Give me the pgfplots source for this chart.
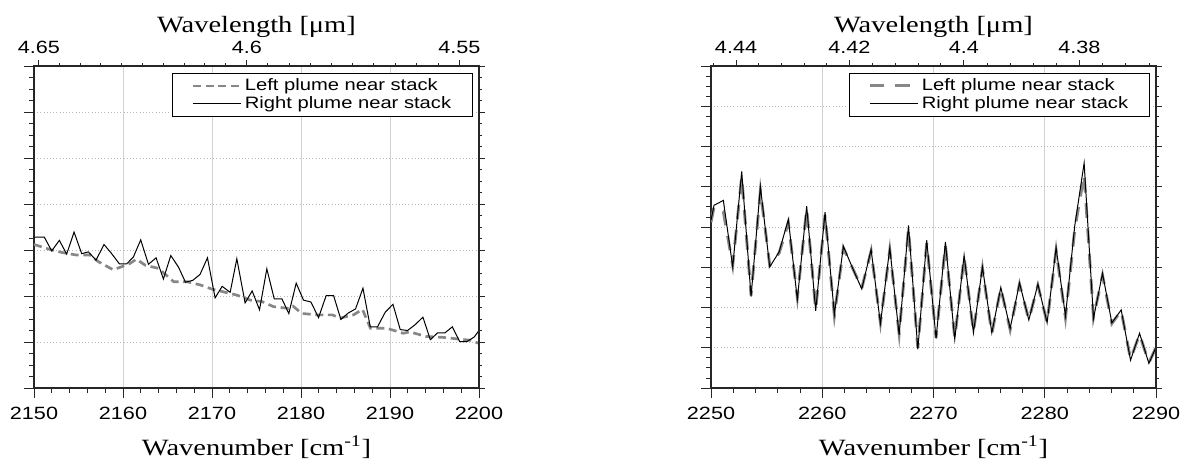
\documentclass[border=0pt]{standalone}
\usepackage{pgfplots}
\pgfplotsset{compat=1.18}
\usepackage{fontspec}
\setmainfont{Liberation Serif}[FakeStretch=1.22]
\newfontfamily\arialx{Liberation Sans}[FakeStretch=1.22]

\definecolor{dashgray}{RGB}{135,135,135}

% left panel data (wavenumber, arbitrary units)
\pgfplotstableread{
x y
2150.00 3.28
2151.16 3.28
2151.99 2.98
2152.85 3.21
2153.67 2.91
2154.50 3.39
2155.36 2.92
2156.11 2.96
2156.97 2.78
2157.87 3.12
2158.73 2.92
2159.59 2.70
2160.42 2.70
2161.17 2.85
2161.99 3.22
2162.86 2.69
2163.72 2.83
2164.54 2.37
2165.37 2.88
2166.23 2.63
2167.02 2.30
2167.84 2.34
2168.66 2.47
2169.49 2.83
2170.35 1.96
2171.14 2.21
2172.04 2.08
2172.79 2.81
2173.72 1.85
2174.51 2.11
2175.34 1.70
2176.16 2.59
2176.99 1.94
2177.85 1.94
2178.63 1.62
2179.46 2.28
2180.28 1.91
2181.11 1.87
2181.97 1.53
2182.83 2.01
2183.66 2.01
2184.48 1.49
2185.31 1.63
2186.13 1.72
2186.96 2.17
2187.78 1.33
2188.60 1.33
2189.47 1.65
2190.33 1.82
2191.15 1.27
2191.98 1.25
2192.84 1.38
2193.70 1.54
2194.53 1.05
2195.35 1.20
2196.18 1.20
2197.00 1.33
2197.83 1.01
2198.65 1.01
2199.47 1.11
2200.00 1.25
}\leftright
\pgfplotstableread{
x y
2150.00 3.12
2152.00 3.00
2153.30 2.94
2154.80 2.89
2156.30 2.89
2157.20 2.75
2158.90 2.57
2159.90 2.64
2160.80 2.71
2161.50 2.80
2162.50 2.67
2164.00 2.60
2165.70 2.31
2167.20 2.31
2168.70 2.24
2170.00 2.15
2171.30 2.09
2172.80 2.02
2174.30 1.91
2175.60 1.88
2176.90 1.77
2178.60 1.73
2179.10 1.78
2180.10 1.62
2181.90 1.59
2183.50 1.59
2184.40 1.52
2185.90 1.59
2186.90 1.71
2187.80 1.30
2189.60 1.30
2191.50 1.19
2192.20 1.22
2194.10 1.12
2196.00 1.10
2197.90 1.06
2199.00 1.04
2200.00 0.97
}\leftleft

% right panel data
\pgfplotstableread{
x y
2250.00 4.17
2250.27 4.54
2251.11 4.66
2251.95 3.01
2252.76 5.38
2253.60 2.27
2254.44 5.00
2255.28 3.01
2256.12 3.38
2256.95 4.19
2257.76 2.20
2258.60 4.52
2259.41 1.92
2260.25 4.37
2261.09 1.83
2261.90 3.52
2262.74 2.97
2263.55 2.46
2264.39 3.44
2265.23 1.60
2266.07 3.48
2266.91 1.32
2267.75 4.04
2268.59 0.96
2269.39 3.67
2270.23 1.23
2271.07 3.63
2271.91 1.21
2272.75 3.30
2273.59 1.37
2274.40 3.01
2275.24 1.37
2276.05 2.50
2276.89 1.48
2277.73 2.61
2278.57 1.69
2279.38 2.58
2280.21 1.62
2281.02 3.49
2281.86 1.79
2282.70 4.04
2283.54 5.59
2284.38 1.73
2285.19 2.85
2286.03 1.62
2286.87 1.94
2287.71 0.69
2288.52 1.36
2289.36 0.61
2289.99 1.01
}\rightright
\pgfplotstableread{
x y
2250.00 4.12
2250.27 4.50
2251.11 4.38
2251.95 3.05
2252.76 5.25
2253.60 2.30
2254.44 4.90
2255.28 3.05
2256.12 3.35
2256.95 4.10
2257.76 2.25
2258.60 4.45
2259.41 1.95
2260.25 4.30
2261.09 1.80
2261.90 3.48
2262.74 2.97
2263.55 2.48
2264.39 3.40
2265.23 1.62
2266.07 3.42
2266.91 1.35
2267.75 3.95
2268.59 1.00
2269.39 3.60
2270.23 1.25
2271.07 3.55
2271.91 1.24
2272.75 3.25
2273.59 1.40
2274.40 2.97
2275.24 1.35
2276.05 2.48
2276.89 1.45
2277.73 2.58
2278.57 1.70
2279.38 2.55
2280.21 1.63
2281.02 3.42
2281.86 1.75
2282.70 3.95
2283.54 5.30
2284.38 1.75
2285.19 2.80
2286.03 1.60
2286.87 1.92
2287.71 0.72
2288.52 1.33
2289.36 0.63
2289.99 1.00
}\rightleft

\pgfplotsset{
  panel/.style={
    width=333.75pt, height=241.5pt, scale only axis, anchor=south west,
    tick align=outside,
    yticklabels={},
    minor y tick num=3,
    axis line style={line width=0.9pt, black!85},
    every tick/.style={black!85, line width=0.6pt},
    ticklabel style={font=\arialx\fontsize{13.3}{16}\selectfont},
    label style={font=\fontsize{17.5}{20}\selectfont},
  },
  bottompanel/.style={
    panel,
    xtick pos=left, ytick pos=left,
    major tick length=7.5pt, minor tick length=3.75pt,
    minor x tick num=4,
    xmajorgrids, ymajorgrids,
    x grid style={black!18, line width=0.6pt},
    y grid style={black!28, dotted, line width=0.6pt},
    xticklabel style={yshift=-3pt},
    xlabel style={at={(axis description cs:0.5,0)}, anchor=base, yshift=-50.25pt},
    xlabel={Wavenumber [cm\textsuperscript{-1}]},
    legend style={at={(1,1)}, anchor=north east, xshift=-4.5pt, yshift=-5.25pt,
      draw=black, line width=0.75pt, fill=white,
      font=\arialx\fontsize{12.4}{13}\selectfont,
      inner xsep=14pt, inner ysep=2pt, row sep=-1pt},
    legend cell align=left,
    legend image code/.code={\draw[##1] (0pt,0pt) -- (36pt,0pt);},
  },
  toppanel/.style={
    panel,
    axis x line*=top, axis y line*=right,
    major tick length=4.5pt, minor tick length=2pt,
    xticklabel style={yshift=1pt},
    xlabel style={at={(axis description cs:0.5,1)}, anchor=base, yshift=25.5pt},
    xlabel={Wavelength [μm]},
  },
}

\begin{document}
\begin{tikzpicture}
\useasboundingbox (0,0) rectangle (890.25pt,346.5pt);

% ---------- left panel ----------
\begin{axis}[bottompanel, at={(25.5pt,55.5pt)},
  xmin=2150, xmax=2200, ymin=0, ymax=7,
  xtick={2150,2160,2170,2180,2190,2200},
  xticklabels={2150,2160,2170,2180,2190,2200},
  ytick={0,1,...,7}]
\addplot[dashgray, line width=2pt, dash pattern=on 6pt off 3.5pt] table {\leftleft};
\addlegendentry{Left plume near stack}
\addplot[black, line width=0.75pt] table {\leftright};
\addlegendentry{Right plume near stack}
\end{axis}
\begin{axis}[toppanel, at={(25.5pt,55.5pt)},
  xmin=2150, xmax=2200, ymin=0, ymax=7,
  xtick={2150.54,2173.91,2197.80},
  xticklabels={4.65,4.6,4.55},
  minor xtick={2152.85,2155.17,2157.50,2159.83,2162.16,2164.50,2166.85,2169.20,2171.55,2176.28,2178.65,2181.03,2183.41,2185.79,2188.18,2190.58,2192.98,2195.39},
  ytick={0,1,...,7}]
\end{axis}

% ---------- right panel ----------
\begin{axis}[bottompanel, at={(533.25pt,55.5pt)},
  xmin=2250, xmax=2290, ymin=0, ymax=8,
  xtick={2250,2260,2270,2280,2290},
  xticklabels={2250,2260,2270,2280,2290},
  ytick={0,1,...,8}]
\addplot[dashgray, line width=2.2pt, dash pattern=on 11pt off 8pt] table {\rightleft};
\addlegendentry{Left plume near stack}
\addplot[black, line width=0.75pt] table {\rightright};
\addlegendentry{Right plume near stack}
\end{axis}
\begin{axis}[toppanel, at={(533.25pt,55.5pt)},
  xmin=2250, xmax=2290, ymin=0, ymax=8,
  xtick={2252.25,2262.44,2272.73,2283.11},
  xticklabels={4.44,4.42,4.4,4.38},
  minor xtick={2250.23,2254.28,2256.32,2258.36,2260.40,2264.49,2266.55,2268.60,2270.66,2274.80,2276.87,2278.95,2281.02,2285.19,2287.28,2289.38},
  ytick={0,1,...,8}]
\end{axis}
\end{tikzpicture}
\end{document}
